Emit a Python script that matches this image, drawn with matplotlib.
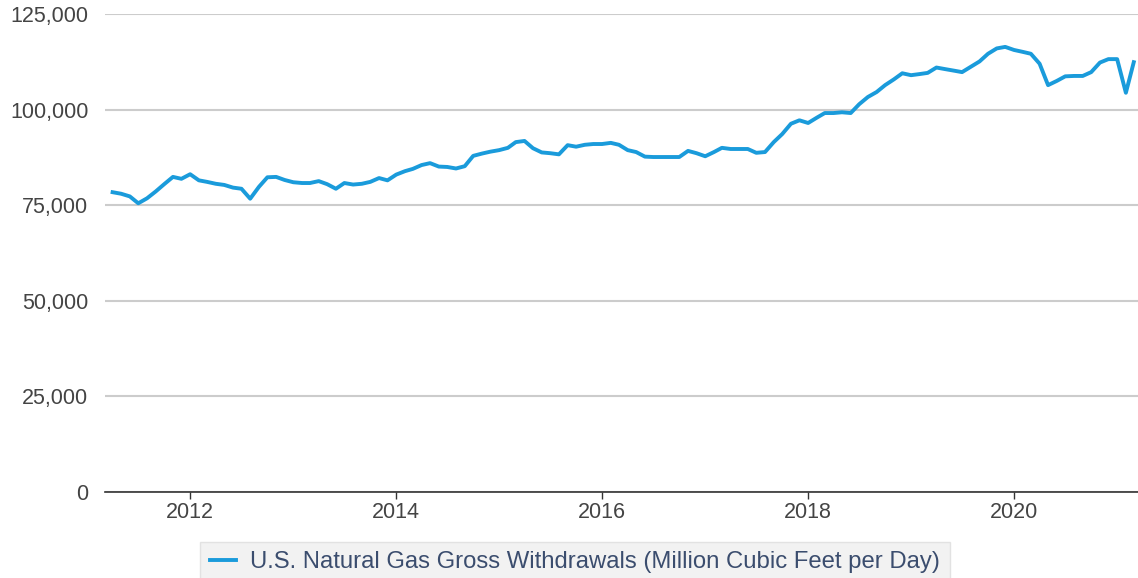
"""Recreate U.S. natural gas gross withdrawals line chart."""
import matplotlib
matplotlib.use("Agg")
import matplotlib.pyplot as plt
import matplotlib.dates as mdates
import pandas as pd

# Monthly values, thousand MMcf/d, Apr 2011 .. Mar 2021
START_MONTH = "2011-04-01"
WITHDRAWALS_K = [
    78.4, 78.0, 77.3, 75.5, 76.8, 78.6, 80.5, 82.4, 81.9,          # 2011
    83.1, 81.5, 81.1, 80.6, 80.3, 79.6, 79.3, 76.7, 79.8, 82.3, 82.4, 81.6,  # 2012
    81.0, 80.8, 80.8, 81.3, 80.5, 79.3, 80.8, 80.4, 80.6, 81.1, 82.1, 81.5,  # 2013
    83.0, 83.9, 84.5, 85.5, 86.0, 85.1, 85.0, 84.6, 85.2, 87.9, 88.5, 89.0,  # 2014
    89.4, 90.0, 91.5, 91.8, 89.9, 88.8, 88.6, 88.3, 90.7, 90.3, 90.8, 91.0,  # 2015
    91.0, 91.3, 90.8, 89.4, 88.9, 87.7, 87.6, 87.6, 87.6, 87.6, 89.2, 88.6,  # 2016
    87.8, 88.9, 90.0, 89.7, 89.7, 89.7, 88.7, 88.9, 91.5, 93.6, 96.3, 97.2,  # 2017
    96.5, 97.9, 99.1, 99.1, 99.3, 99.1, 101.4, 103.3, 104.6, 106.4, 107.9, 109.5,  # 2018
    109.0, 109.3, 109.6, 111.0, 110.6, 110.2, 109.8, 111.2, 112.6, 114.6, 116.0, 116.4,  # 2019
    115.6, 115.1, 114.6, 112.0, 106.4, 107.5, 108.7, 108.8, 108.8, 109.8, 112.3, 113.2,  # 2020
    113.2, 104.4, 112.4,                                             # 2021
]
Y_TICKS = [0, 25000, 50000, 75000, 100000, 125000]
X_TICK_YEARS = [2012, 2014, 2016, 2018, 2020]
SERIES_LABEL = "U.S. Natural Gas Gross Withdrawals (Million Cubic Feet per Day)"

plt.rcParams["font.family"] = ["Liberation Sans", "DejaVu Sans"]

dates = pd.date_range(START_MONTH, periods=len(WITHDRAWALS_K), freq="MS")
values = [v * 1000 for v in WITHDRAWALS_K]

fig = plt.figure(figsize=(11.38, 5.78), dpi=100)
ax = fig.add_axes([105 / 1138, 86 / 578, 1 - 105 / 1138, 478 / 578])

line, = ax.plot(dates, values, color="#1a9bdb", linewidth=2.8,
                solid_joinstyle="round", label=SERIES_LABEL, zorder=3)

ax.set_ylim(0, 125000)
ax.set_yticks(Y_TICKS)
ax.set_yticklabels([f"{t:,}" for t in Y_TICKS])
ax.set_xlim(pd.Timestamp("2011-03-05"), pd.Timestamp("2021-03-16"))
ax.set_xticks([pd.Timestamp(f"{y}-01-01") for y in X_TICK_YEARS])
ax.xaxis.set_major_formatter(mdates.DateFormatter("%Y"))

ax.grid(axis="y", color="#cccccc", linewidth=1.5, zorder=1)
ax.set_axisbelow(True)
for side in ("top", "right", "left"):
    ax.spines[side].set_visible(False)
ax.spines["bottom"].set_color("#333333")
ax.spines["bottom"].set_linewidth(1.2)
ax.spines["bottom"].set_zorder(4)

ax.tick_params(axis="y", length=0, pad=12, labelsize=15.5, labelcolor="#444444")
ax.tick_params(axis="x", length=5, width=1, color="#333333", pad=2,
               labelsize=15.5, labelcolor="#444444")

leg = fig.legend(handles=[line], loc="lower left",
                 bbox_to_anchor=(200 / 1138, -0.008), frameon=True,
                 fancybox=False, facecolor="#efefef", edgecolor="#dddddd",
                 fontsize=17.2, handlelength=1.1, handletextpad=0.6,
                 borderpad=0.4, borderaxespad=0)
leg.get_frame().set_linewidth(1)
for txt in leg.get_texts():
    txt.set_color("#3b4d6e")

fig.savefig("out.png", dpi=100)
